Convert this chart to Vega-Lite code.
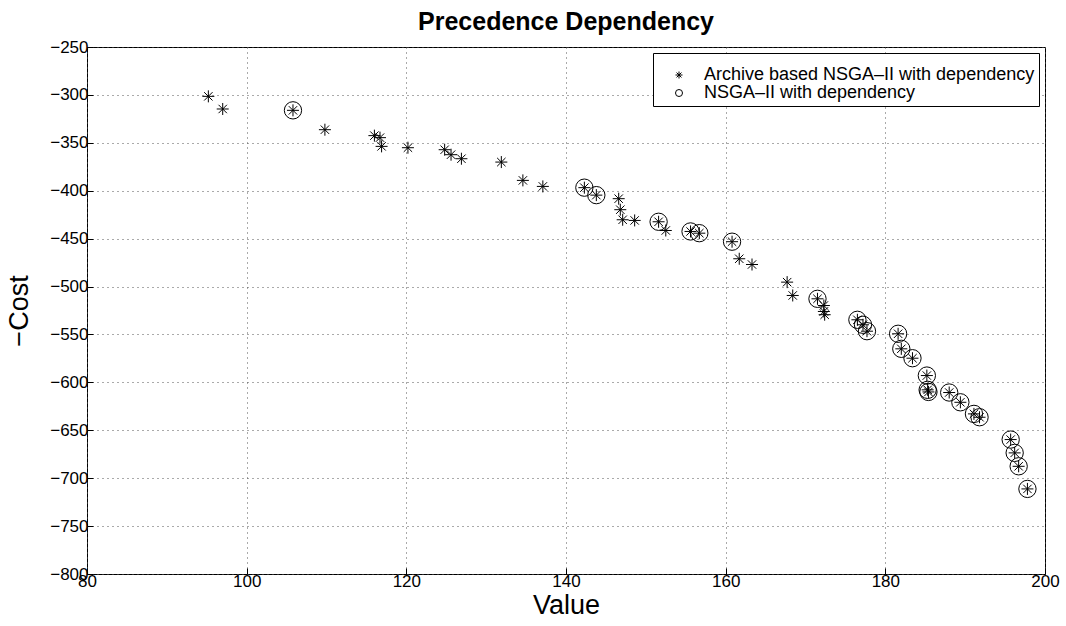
{
  "$schema": "https://vega.github.io/schema/vega-lite/v6.json",
  "autosize": "none",
  "width": 958,
  "height": 527,
  "padding": {"left": 87, "top": 47, "right": 21, "bottom": 53},
  "background": "white",
  "title": {
    "text": "Precedence Dependency",
    "font": "Liberation Sans",
    "fontSize": 25,
    "fontWeight": "bold",
    "color": "black",
    "anchor": "middle",
    "frame": "group",
    "baseline": "alphabetic",
    "offset": 17,
    "dy": 34
  },
  "config": {
    "view": {"stroke": "black", "strokeWidth": 1},
    "axis": {
      "labelFont": "Liberation Sans",
      "labelFontSize": 17,
      "labelColor": "black",
      "titleFont": "Liberation Sans",
      "titleFontSize": 27,
      "titleFontWeight": "normal",
      "titleColor": "black",
      "domain": false,
      "ticks": true,
      "tickColor": "black",
      "tickSize": -6,
      "grid": true,
      "gridColor": "#555",
      "gridDash": [1, 4],
      "gridWidth": 1,
      "gridOpacity": 1
    }
  },
  "datasets": {
    "pts": [
      {"v": 95.2, "c": -301.5, "s": "Archive based NSGA–II with dependency"},
      {"v": 97.0, "c": -314.7, "s": "Archive based NSGA–II with dependency"},
      {"v": 105.8, "c": -316.1, "s": "Archive based NSGA–II with dependency"},
      {"v": 109.8, "c": -336.3, "s": "Archive based NSGA–II with dependency"},
      {"v": 116.0, "c": -342.5, "s": "Archive based NSGA–II with dependency"},
      {"v": 116.7, "c": -344.6, "s": "Archive based NSGA–II with dependency"},
      {"v": 116.9, "c": -353.7, "s": "Archive based NSGA–II with dependency"},
      {"v": 120.2, "c": -355.1, "s": "Archive based NSGA–II with dependency"},
      {"v": 124.8, "c": -357.2, "s": "Archive based NSGA–II with dependency"},
      {"v": 125.6, "c": -362.4, "s": "Archive based NSGA–II with dependency"},
      {"v": 126.9, "c": -366.6, "s": "Archive based NSGA–II with dependency"},
      {"v": 131.9, "c": -370.1, "s": "Archive based NSGA–II with dependency"},
      {"v": 134.6, "c": -389.2, "s": "Archive based NSGA–II with dependency"},
      {"v": 137.1, "c": -395.5, "s": "Archive based NSGA–II with dependency"},
      {"v": 142.3, "c": -396.8, "s": "Archive based NSGA–II with dependency"},
      {"v": 143.8, "c": -404.6, "s": "Archive based NSGA–II with dependency"},
      {"v": 146.6, "c": -408.3, "s": "Archive based NSGA–II with dependency"},
      {"v": 146.8, "c": -419.8, "s": "Archive based NSGA–II with dependency"},
      {"v": 147.1, "c": -430.3, "s": "Archive based NSGA–II with dependency"},
      {"v": 148.6, "c": -431.0, "s": "Archive based NSGA–II with dependency"},
      {"v": 151.6, "c": -432.4, "s": "Archive based NSGA–II with dependency"},
      {"v": 152.5, "c": -441.5, "s": "Archive based NSGA–II with dependency"},
      {"v": 155.6, "c": -442.5, "s": "Archive based NSGA–II with dependency"},
      {"v": 156.7, "c": -444.3, "s": "Archive based NSGA–II with dependency"},
      {"v": 160.8, "c": -453.2, "s": "Archive based NSGA–II with dependency"},
      {"v": 161.7, "c": -471.0, "s": "Archive based NSGA–II with dependency"},
      {"v": 163.3, "c": -477.0, "s": "Archive based NSGA–II with dependency"},
      {"v": 167.7, "c": -495.4, "s": "Archive based NSGA–II with dependency"},
      {"v": 168.4, "c": -509.3, "s": "Archive based NSGA–II with dependency"},
      {"v": 171.5, "c": -512.8, "s": "Archive based NSGA–II with dependency"},
      {"v": 172.3, "c": -519.8, "s": "Archive based NSGA–II with dependency"},
      {"v": 172.3, "c": -526.0, "s": "Archive based NSGA–II with dependency"},
      {"v": 172.4, "c": -529.4, "s": "Archive based NSGA–II with dependency"},
      {"v": 176.5, "c": -534.7, "s": "Archive based NSGA–II with dependency"},
      {"v": 177.2, "c": -539.9, "s": "Archive based NSGA–II with dependency"},
      {"v": 177.7, "c": -546.6, "s": "Archive based NSGA–II with dependency"},
      {"v": 181.6, "c": -549.3, "s": "Archive based NSGA–II with dependency"},
      {"v": 182.0, "c": -565.0, "s": "Archive based NSGA–II with dependency"},
      {"v": 183.4, "c": -574.8, "s": "Archive based NSGA–II with dependency"},
      {"v": 185.2, "c": -592.9, "s": "Archive based NSGA–II with dependency"},
      {"v": 185.3, "c": -607.8, "s": "Archive based NSGA–II with dependency"},
      {"v": 185.4, "c": -610.0, "s": "Archive based NSGA–II with dependency"},
      {"v": 188.0, "c": -610.6, "s": "Archive based NSGA–II with dependency"},
      {"v": 189.4, "c": -620.8, "s": "Archive based NSGA–II with dependency"},
      {"v": 191.1, "c": -632.9, "s": "Archive based NSGA–II with dependency"},
      {"v": 191.8, "c": -636.4, "s": "Archive based NSGA–II with dependency"},
      {"v": 195.7, "c": -659.7, "s": "Archive based NSGA–II with dependency"},
      {"v": 196.2, "c": -673.6, "s": "Archive based NSGA–II with dependency"},
      {"v": 196.7, "c": -687.6, "s": "Archive based NSGA–II with dependency"},
      {"v": 197.8, "c": -711.2, "s": "Archive based NSGA–II with dependency"},
      {"v": 105.8, "c": -316.1, "s": "NSGA–II with dependency"},
      {"v": 142.3, "c": -396.8, "s": "NSGA–II with dependency"},
      {"v": 143.8, "c": -404.6, "s": "NSGA–II with dependency"},
      {"v": 151.6, "c": -432.4, "s": "NSGA–II with dependency"},
      {"v": 155.6, "c": -442.5, "s": "NSGA–II with dependency"},
      {"v": 156.7, "c": -444.3, "s": "NSGA–II with dependency"},
      {"v": 160.8, "c": -453.2, "s": "NSGA–II with dependency"},
      {"v": 171.5, "c": -512.8, "s": "NSGA–II with dependency"},
      {"v": 176.5, "c": -534.7, "s": "NSGA–II with dependency"},
      {"v": 177.2, "c": -539.9, "s": "NSGA–II with dependency"},
      {"v": 177.7, "c": -546.6, "s": "NSGA–II with dependency"},
      {"v": 181.6, "c": -549.3, "s": "NSGA–II with dependency"},
      {"v": 182.0, "c": -565.0, "s": "NSGA–II with dependency"},
      {"v": 183.4, "c": -574.8, "s": "NSGA–II with dependency"},
      {"v": 185.2, "c": -592.9, "s": "NSGA–II with dependency"},
      {"v": 185.3, "c": -607.8, "s": "NSGA–II with dependency"},
      {"v": 185.4, "c": -610.0, "s": "NSGA–II with dependency"},
      {"v": 188.0, "c": -610.6, "s": "NSGA–II with dependency"},
      {"v": 189.4, "c": -620.8, "s": "NSGA–II with dependency"},
      {"v": 191.1, "c": -632.9, "s": "NSGA–II with dependency"},
      {"v": 191.8, "c": -636.4, "s": "NSGA–II with dependency"},
      {"v": 195.7, "c": -659.7, "s": "NSGA–II with dependency"},
      {"v": 196.2, "c": -673.6, "s": "NSGA–II with dependency"},
      {"v": 196.7, "c": -687.6, "s": "NSGA–II with dependency"},
      {"v": 197.8, "c": -711.2, "s": "NSGA–II with dependency"}
    ]
  },
  "data": {"name": "pts"},
  "encoding": {
    "x": {
      "field": "v", "type": "quantitative",
      "scale": {"domain": [80, 200], "nice": false, "zero": false},
      "axis": {"values": [80, 100, 120, 140, 160, 180, 200], "title": "Value", "labelPadding": 5, "titlePadding": 3, "labelFlush": false}
    },
    "y": {
      "field": "c", "type": "quantitative",
      "scale": {"domain": [-800, -250], "nice": false, "zero": false},
      "axis": {"values": [-800, -750, -700, -650, -600, -550, -500, -450, -400, -350, -300, -250], "title": "−Cost", "labelPadding": 5, "titlePadding": 16, "labelFlush": false}
    },
    "shape": {
      "field": "s", "type": "nominal",
      "scale": {
        "domain": ["Archive based NSGA–II with dependency", "NSGA–II with dependency"],
        "range": ["M-1,0L1,0M0,-1L0,1M-0.7,-0.7L0.7,0.7M-0.7,0.7L0.7,-0.7", "circle"]
      },
      "legend": {
        "title": " ",
        "titleFontSize": 8,
        "titlePadding": 1,
        "orient": "none",
        "legendX": 566,
        "legendY": 6,
        "strokeColor": "black",
        "fillColor": "white",
        "padding": 4,
        "symbolOffset": 13,
        "symbolSize": 49,
        "symbolStrokeColor": "black",
        "symbolStrokeWidth": 1,
        "symbolFillColor": "transparent",
        "labelFont": "Liberation Sans",
        "labelFontSize": 18,
        "labelColor": "black",
        "labelLimit": 400,
        "labelOffset": 16,
        "rowPadding": 0
      }
    }
  },
  "layer": [
    {
      "transform": [{"filter": "datum.s === 'Archive based NSGA–II with dependency'"}],
      "mark": {"type": "point", "filled": false, "stroke": "black", "strokeWidth": 1, "opacity": 1, "size": 144}
    },
    {
      "transform": [{"filter": "datum.s === 'NSGA–II with dependency'"}],
      "mark": {"type": "point", "filled": false, "stroke": "black", "strokeWidth": 1, "opacity": 1, "size": 300}
    }
  ]
}
